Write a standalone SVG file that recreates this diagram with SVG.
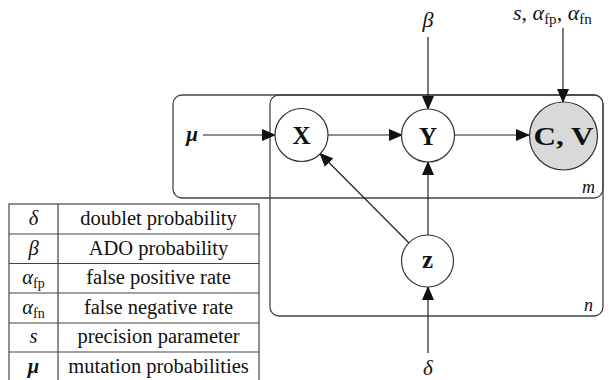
<svg xmlns="http://www.w3.org/2000/svg" width="609" height="380" viewBox="0 0 609 380">
<defs>
<marker id="ah" markerWidth="14" markerHeight="12" refX="13" refY="6" orient="auto" markerUnits="userSpaceOnUse">
<path d="M0,0 L14,6 L0,12 Z" fill="#111"/>
</marker>
<style>
text{font-family:"Liberation Serif","DejaVu Serif",serif;fill:#111}
.plate{fill:none;stroke:#444;stroke-width:1.3}
.node{fill:#fff;stroke:#333;stroke-width:1.2}
.obs{fill:#d9d9d9;stroke:#333;stroke-width:1.2}
.lbl{font-size:25px;font-weight:bold;text-anchor:middle}
.edge{stroke:#222;stroke-width:1.2;fill:none;marker-end:url(#ah)}
.tb{fill:none;stroke:#444;stroke-width:1.2}
.tt{font-size:20.5px;text-anchor:middle}
.it{font-style:italic}
.pl{font-size:18px;font-style:italic}
</style>
</defs>
<rect x="0" y="0" width="609" height="380" fill="#fff"/>
<g id="plates">
<rect id="plate-m" class="plate" x="173" y="95" width="430" height="103" rx="9"/>
<rect id="plate-n" class="plate" x="270" y="95" width="333" height="221" rx="9"/>
<text class="pl" x="582" y="193">m</text>
<text class="pl" x="584" y="311">n</text>
</g>
<g id="connectors">
<line class="edge" x1="203" y1="135" x2="275" y2="135"/>
<line class="edge" x1="328" y1="135" x2="402" y2="135"/>
<line class="edge" x1="454.5" y1="135" x2="529" y2="135"/>
<line class="edge" x1="428" y1="37" x2="428" y2="109"/>
<line class="edge" x1="563" y1="28" x2="563" y2="102"/>
<line class="edge" x1="428" y1="235" x2="428" y2="162"/>
<line class="edge" x1="409" y1="243" x2="320" y2="153.5"/>
<line class="edge" x1="428" y1="353" x2="428" y2="287"/>
</g>
<g id="node-X">
<circle class="node" cx="301.5" cy="135" r="26.5"/>
<text class="lbl" x="301.5" y="144">X</text>
</g>
<g id="node-Y">
<circle class="node" cx="428" cy="135.5" r="26.5"/>
<text class="lbl" x="428" y="144.5">Y</text>
</g>
<g id="node-CV">
<circle class="obs" cx="563.5" cy="136" r="34"/>
<text class="lbl" x="563.5" y="145" textLength="60" lengthAdjust="spacingAndGlyphs">C, V</text>
</g>
<g id="node-z">
<circle class="node" cx="427.5" cy="261" r="26"/>
<text class="lbl" x="427.5" y="268">z</text>
</g>
<g id="param-mu">
<text x="192" y="141" font-size="21" font-weight="bold" font-style="italic" text-anchor="middle">μ</text>
</g>
<g id="param-beta">
<text x="428" y="27" font-size="22" font-style="italic" text-anchor="middle">β</text>
</g>
<g id="param-s">
<text x="513" y="20" font-size="22"><tspan class="it">s</tspan>, <tspan class="it">α</tspan><tspan font-size="15" dy="4">fp</tspan><tspan dy="-4">, </tspan><tspan class="it">α</tspan><tspan font-size="15" dy="4">fn</tspan></text>
</g>
<g id="param-delta">
<text x="428" y="375" font-size="21" font-style="italic" text-anchor="middle">δ</text>
</g>
<g id="legend">
<rect class="tb" x="9" y="204" width="250" height="178"/>
<line class="tb" x1="58" y1="204" x2="58" y2="382"/>
<line class="tb" x1="9" y1="234" x2="259" y2="234"/>
<line class="tb" x1="9" y1="263.5" x2="259" y2="263.5"/>
<line class="tb" x1="9" y1="293" x2="259" y2="293"/>
<line class="tb" x1="9" y1="323" x2="259" y2="323"/>
<line class="tb" x1="9" y1="352" x2="259" y2="352"/>
<text class="tt it" x="33.5" y="225">δ</text>
<text class="tt" x="158.5" y="225">doublet probability</text>
<text class="tt it" x="33.5" y="255">β</text>
<text class="tt" x="158.5" y="255">ADO probability</text>
<text class="tt" x="33.5" y="284"><tspan class="it">α</tspan><tspan font-size="14" dy="4">fp</tspan></text>
<text class="tt" x="158.5" y="284">false positive rate</text>
<text class="tt" x="33.5" y="314"><tspan class="it">α</tspan><tspan font-size="14" dy="4">fn</tspan></text>
<text class="tt" x="158.5" y="314">false negative rate</text>
<text class="tt it" x="33.5" y="343">s</text>
<text class="tt" x="158.5" y="343">precision parameter</text>
<text class="tt it" x="33.5" y="373" font-weight="bold">μ</text>
<text class="tt" x="158.5" y="373">mutation probabilities</text>
</g>
</svg>
